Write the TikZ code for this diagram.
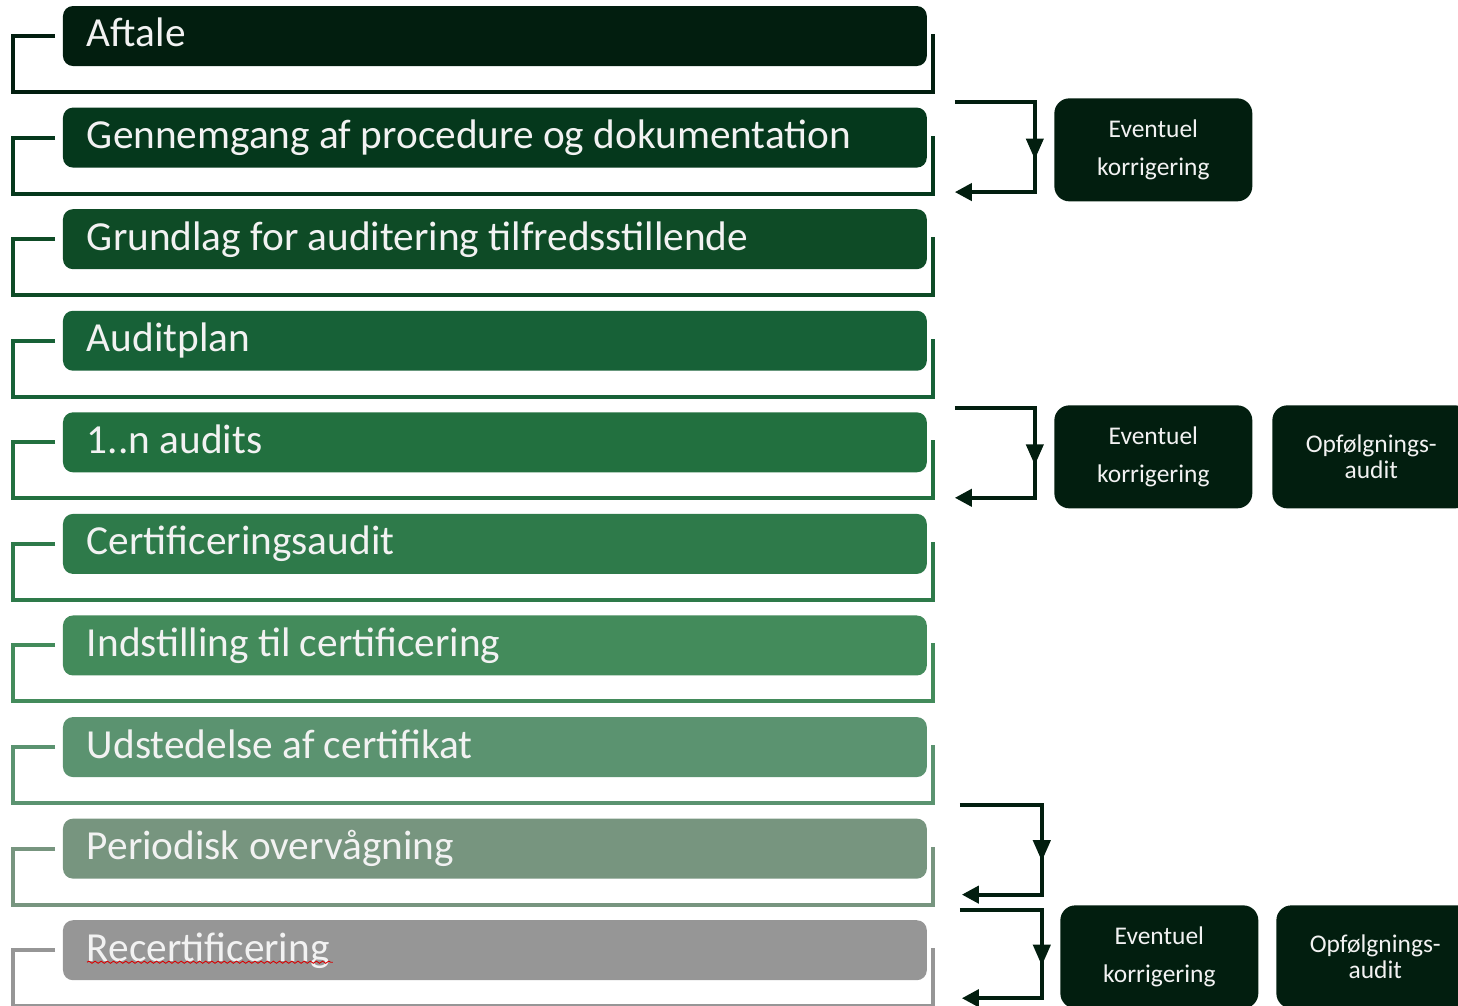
\documentclass[tikz,border=0pt]{standalone}
\usepackage{fontspec}
\setmainfont{Carlito}
\usetikzlibrary{matrix,arrows.meta,decorations.markings,decorations.pathmorphing}

\definecolor{stepA}{HTML}{021E0F}
\definecolor{stepB}{HTML}{05381C}
\definecolor{stepC}{HTML}{0E4B26}
\definecolor{stepD}{HTML}{176137}
\definecolor{stepE}{HTML}{22703F}
\definecolor{stepF}{HTML}{2E7A4A}
\definecolor{stepG}{HTML}{438B5B}
\definecolor{stepH}{HTML}{5B9370}
\definecolor{stepI}{HTML}{77957F}
\definecolor{stepJ}{HTML}{969696}
\definecolor{boxtext}{HTML}{F2F2F2}

\begin{document}
\begin{tikzpicture}[x=0.02cm,y=-0.02cm,
  stepbox/.style={rounded corners=0.2cm,minimum width=17.28cm,minimum height=1.2cm,
    text width=16.32cm,align=flush left,inner xsep=0.48cm,inner ysep=0pt,outer sep=0pt,
    text height=16pt,text depth=3.5pt,
    text=boxtext,font=\fontsize{23.5}{28}\selectfont},
  bracket/.style={line width=0.08cm},
  sidebox/.style={fill=stepA,rounded corners=0.3cm,anchor=north west,
    minimum width=3.96cm,minimum height=2.06cm,align=center,inner sep=0pt,
    text=boxtext},
  looparrow/.style={draw=stepA,line width=0.08cm,
    -{Triangle[length=0.34cm,width=0.34cm]},
    postaction={decorate},
    decoration={markings,mark=at position 0.55 with
      {\arrow{Triangle[length=0.42cm,width=0.34cm]}}}}]
  \useasboundingbox (0,0) rectangle (1458,1005);

  \matrix (m) [matrix of nodes,row sep=0.832cm,anchor=north west,inner sep=0pt,
    outer sep=0pt,nodes={stepbox}] at (63,6) {
     |[fill=stepA]| Aftale \\
     |[fill=stepB]| Gennemgang af procedure og dokumentation \\
     |[fill=stepC]| Grundlag for auditering tilfredsstillende \\
     |[fill=stepD]| Auditplan \\
     |[fill=stepE]| 1..n audits \\
     |[fill=stepF]| Certificeringsaudit \\
     |[fill=stepG]| Indstilling til certificering \\
     |[fill=stepH]| Udstedelse af certifikat \\
     |[fill=stepI]| Periodisk overvågning \\
     |[fill=stepJ]| Recertificering \\
  };

  % brackets round each step
  \foreach \r/\c in {1/stepA,2/stepB,3/stepC,4/stepD,5/stepE,6/stepF,7/stepG,8/stepH,9/stepI,10/stepJ}
    \draw[bracket,draw=\c] ([xshift=-0.16cm]m-\r-1.west) -- +(-0.84cm,0)
      |- ([xshift=0.12cm,yshift=-0.52cm]m-\r-1.south east)
      -- ([xshift=0.12cm,yshift=0.04cm]m-\r-1.east);

  % spell check mark
  \draw[red!85!black,line width=0.5pt,decorate,decoration={snake,amplitude=0.6pt,segment length=3.5pt}]
    ([xshift=0.48cm,yshift=-0.24cm]m-10-1.west) -- ++(246,0);

  \node[sidebox,font=\fontsize{14.5}{21.6}\selectfont] (korr1) at (1054,98) {Eventuel\\korrigering};
  \node[sidebox,font=\fontsize{14.5}{21.6}\selectfont] (korr2) at (1054,405) {Eventuel\\korrigering};
  \node[sidebox,font=\fontsize{14.5}{15}\selectfont] (opf2) at (1272,405) {Opfølgnings-\\audit};
  \node[sidebox,font=\fontsize{14.5}{21.6}\selectfont] (korr3) at (1060,905) {Eventuel\\korrigering};
  \node[sidebox,font=\fontsize{14.5}{15}\selectfont] (opf3) at (1276,905) {Opfølgnings-\\audit};

  \coordinate (g-out) at ([xshift=0.56cm,yshift=0.11cm]m-2-1.north east);
  \coordinate (g-in) at ([xshift=0.56cm,yshift=-0.49cm]m-2-1.south east);
  \coordinate (a-out) at ([xshift=0.56cm,yshift=0.09cm]m-5-1.north east);
  \coordinate (a-in) at ([xshift=0.56cm,yshift=-0.51cm]m-5-1.south east);
  \coordinate (p-out) at ([xshift=0.66cm,yshift=0.28cm]m-9-1.north east);
  \coordinate (p-in) at ([xshift=0.7cm,yshift=-0.32cm]m-9-1.south east);
  \coordinate (r-out) at ([xshift=0.66cm,yshift=0.2cm]m-10-1.north east);
  \coordinate (r-in) at ([xshift=0.7cm,yshift=-0.36cm]m-10-1.south east);

  \draw[looparrow] (g-out) -- ++(80,0) |- (g-in);
  \draw[looparrow] (a-out) -- ++(80,0) |- (a-in);
  \draw[looparrow] (p-out) -- ++(82,0) |- (p-in);
  \draw[looparrow] (r-out) -- ++(82,0) |- (r-in);
\end{tikzpicture}
\end{document}
